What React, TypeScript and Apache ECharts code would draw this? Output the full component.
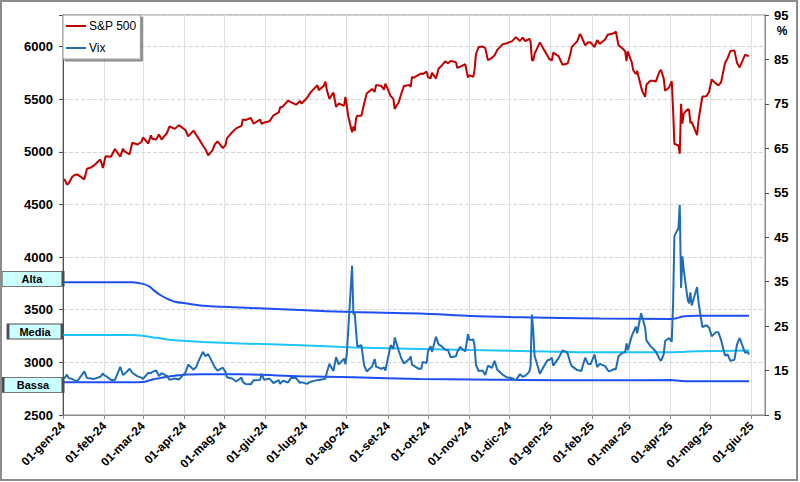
import React, { useEffect, useRef } from 'react';
import * as echarts from 'echarts';

const FONT = '"Liberation Sans", Arial, Helvetica, sans-serif';
const monthNames = ['gen', 'feb', 'mar', 'apr', 'mag', 'giu', 'lug', 'ago', 'set', 'ott', 'nov', 'dic'];

// trading dates (one line per month)
const dates = [
  '2024-01-02','2024-01-04','2024-01-05','2024-01-08','2024-01-10','2024-01-12','2024-01-17','2024-01-19','2024-01-22','2024-01-24','2024-01-26','2024-01-29','2024-01-31',
  '2024-02-01','2024-02-02','2024-02-06','2024-02-09','2024-02-13','2024-02-15','2024-02-16','2024-02-20','2024-02-22','2024-02-26','2024-02-29',
  '2024-03-01','2024-03-05','2024-03-07','2024-03-08','2024-03-11','2024-03-13','2024-03-15','2024-03-19','2024-03-21','2024-03-25','2024-03-28',
  '2024-04-02','2024-04-04','2024-04-08','2024-04-10','2024-04-12','2024-04-15','2024-04-17','2024-04-19','2024-04-22','2024-04-24','2024-04-26','2024-04-30',
  '2024-05-02','2024-05-03','2024-05-07','2024-05-10','2024-05-14','2024-05-15','2024-05-17','2024-05-21','2024-05-23','2024-05-28','2024-05-29','2024-05-31',
  '2024-06-04','2024-06-07','2024-06-11','2024-06-12','2024-06-14','2024-06-18','2024-06-20','2024-06-24','2024-06-27','2024-06-28',
  '2024-07-02','2024-07-05','2024-07-10','2024-07-11','2024-07-15','2024-07-16','2024-07-17','2024-07-19','2024-07-22','2024-07-24','2024-07-26','2024-07-30','2024-07-31',
  '2024-08-01','2024-08-02','2024-08-05','2024-08-06','2024-08-07','2024-08-08','2024-08-09','2024-08-12','2024-08-14','2024-08-16','2024-08-20','2024-08-22','2024-08-23','2024-08-27','2024-08-29','2024-08-30',
  '2024-09-03','2024-09-05','2024-09-06','2024-09-09','2024-09-11','2024-09-13','2024-09-17','2024-09-18','2024-09-19','2024-09-20','2024-09-24','2024-09-26','2024-09-27','2024-09-30',
  '2024-10-01','2024-10-03','2024-10-04','2024-10-07','2024-10-09','2024-10-11','2024-10-14','2024-10-16','2024-10-18','2024-10-22','2024-10-23','2024-10-25','2024-10-29','2024-10-31',
  '2024-11-01','2024-11-04','2024-11-05','2024-11-06','2024-11-08','2024-11-11','2024-11-13','2024-11-15','2024-11-18','2024-11-20','2024-11-22','2024-11-26','2024-11-29',
  '2024-12-03','2024-12-06','2024-12-09','2024-12-11','2024-12-13','2024-12-16','2024-12-17','2024-12-18','2024-12-19','2024-12-20','2024-12-24','2024-12-27','2024-12-30','2024-12-31',
  '2025-01-02','2025-01-03','2025-01-07','2025-01-10','2025-01-13','2025-01-14','2025-01-16','2025-01-17','2025-01-21','2025-01-23','2025-01-24','2025-01-27','2025-01-29','2025-01-31',
  '2025-02-03','2025-02-05','2025-02-07','2025-02-11','2025-02-13','2025-02-14','2025-02-18','2025-02-19','2025-02-21','2025-02-24','2025-02-26','2025-02-27','2025-02-28',
  '2025-03-03','2025-03-04','2025-03-06','2025-03-07','2025-03-10','2025-03-11','2025-03-13','2025-03-14','2025-03-17','2025-03-19','2025-03-21','2025-03-24','2025-03-25','2025-03-27','2025-03-28','2025-03-31',
  '2025-04-02','2025-04-03','2025-04-04','2025-04-07','2025-04-08','2025-04-09','2025-04-10','2025-04-11','2025-04-14','2025-04-15','2025-04-16','2025-04-17','2025-04-21','2025-04-22','2025-04-23','2025-04-25','2025-04-28','2025-04-30',
  '2025-05-02','2025-05-05','2025-05-07','2025-05-09','2025-05-12','2025-05-14','2025-05-16','2025-05-19','2025-05-21','2025-05-23','2025-05-27','2025-05-29','2025-05-30',
];

const sp500 = [
  4743,4688,4697,4764,4783,4784,4739,4840,4851,4869,4891,4928,4846,
  4906,4959,4954,5027,4953,5030,5006,4976,5087,5070,5096,
  5137,5079,5157,5124,5117,5165,5117,5179,5241,5218,5254,
  5205,5147,5202,5161,5123,5061,5022,4967,5011,5071,5100,5036,
  5064,5128,5187,5223,5247,5308,5303,5321,5268,5306,5267,5278,
  5291,5347,5375,5421,5431,5487,5473,5448,5483,5460,
  5509,5567,5633,5585,5631,5667,5589,5505,5564,5427,5459,5436,5522,
  5446,5346,5186,5240,5199,5319,5344,5344,5455,5554,5597,5571,5634,5625,5592,5648,
  5529,5503,5408,5471,5554,5626,5634,5618,5713,5703,5732,5745,5738,5762,
  5709,5699,5751,5696,5792,5815,5859,5842,5864,5851,5797,5808,5832,5705,
  5729,5712,5783,5929,5996,6001,5985,5870,5893,5917,5969,6021,6032,
  6049,6090,6053,6085,6051,6074,6051,5872,5867,5931,6040,5971,5907,5882,
  5869,5942,5909,5827,5836,5843,5937,5997,6049,6119,6101,6012,6039,6041,
  5994,6061,6026,6068,6115,6115,6129,6144,6013,5983,5956,5861,5955,
  5849,5778,5739,5770,5615,5572,5522,5639,5675,5675,5668,5768,5777,5693,5581,5612,
  5671,5397,5074,5062,4982,5457,5268,5363,5406,5396,5276,5283,5158,5288,5376,5525,5529,5569,
  5687,5650,5631,5660,5844,5892,5958,5964,5845,5802,5922,5912,5912,
];

const vix = [
  13.2,14.1,13.35,13.1,12.7,12.7,14.8,13.3,13.2,13.1,13.3,13.6,14.35,
  13.9,13.85,12.9,12.9,15.85,14.0,14.2,15.4,14.5,13.7,13.4,
  13.1,14.5,14.4,14.7,15.0,13.75,14.4,13.8,12.9,13.2,13.0,
  14.6,16.35,15.2,15.8,17.3,19.2,18.2,18.7,16.9,15.7,15.0,15.65,
  14.7,13.5,13.2,12.55,13.4,12.45,12.0,11.9,12.8,12.9,14.3,12.9,
  13.2,12.2,12.85,12.0,12.7,12.3,13.3,13.3,12.2,12.4,
  12.0,12.5,12.85,12.9,13.1,13.2,14.5,16.5,14.9,18.0,16.4,17.7,16.4,
  18.6,23.4,38.6,27.7,27.9,23.8,20.4,20.7,16.2,14.8,15.9,17.6,15.9,15.4,15.7,15.0,
  20.7,19.9,22.4,19.5,17.7,16.6,17.6,18.2,16.3,16.15,15.4,15.4,16.96,16.7,
  19.3,20.5,19.2,22.6,20.9,20.5,19.7,19.6,18.0,18.2,19.2,20.3,19.3,23.2,
  21.9,22.0,20.5,16.3,14.9,15.0,14.0,16.1,15.6,17.2,15.2,14.1,13.5,
  13.3,12.8,14.2,13.6,13.8,14.7,15.9,27.6,24.1,18.4,14.3,15.95,17.4,17.35,
  17.9,16.1,17.8,19.5,19.2,18.7,16.6,16.0,15.1,15.0,14.85,17.9,16.6,16.4,
  18.6,15.8,16.5,16.0,15.1,14.8,15.35,15.3,18.2,19.0,19.1,21.1,19.6,
  22.8,23.5,24.9,23.4,27.9,26.9,24.7,21.8,20.5,19.9,19.3,17.5,17.2,18.7,21.65,22.3,
  21.5,30.0,45.3,47.0,52.3,33.6,40.7,37.6,30.9,30.1,32.6,29.65,33.8,30.6,28.5,24.8,25.2,24.7,
  22.7,23.6,23.6,21.9,18.4,18.6,17.2,17.4,20.9,22.3,19.0,19.2,18.6,
];

// VIX bands
const bandDates = [
  '2024-01-01','2024-02-22','2024-03-01','2024-03-06','2024-03-09','2024-03-14','2024-03-19','2024-03-25',
  '2024-04-03','2024-04-15','2024-05-13','2024-06-27','2024-08-06','2024-09-25','2024-11-02','2024-12-10',
  '2025-02-07','2025-04-02','2025-04-06','2025-04-10','2025-04-15','2025-04-21','2025-05-30',
];
const alta = [34.86,34.85,34.5,33.9,33.1,32.0,31.2,30.5,30.1,29.6,29.2,28.6,28.15,27.85,27.3,27.0,26.7,26.6,26.8,27.15,27.3,27.35,27.35];
const media = [23.0,23.0,22.85,22.6,22.45,22.25,22.0,21.8,21.65,21.45,21.1,20.7,20.2,19.85,19.6,19.4,19.1,19.1,19.15,19.2,19.3,19.35,19.5];
const bassa = [12.35,12.35,12.4,12.8,13.05,13.3,13.6,13.85,14.1,14.15,14.15,13.7,13.5,13.1,13.0,12.9,12.8,12.85,12.75,12.65,12.6,12.6,12.6];

const bandMark = (name: string, vals: number[], w: number, dx: number, dy: number) => ({
  silent: true,
  symbol: 'rect',
  symbolSize: [w, 15],
  symbolOffset: [dx, dy],
  itemStyle: { color: '#ccffff', borderColor: '#4d4d4d', borderWidth: 1.5 },
  label: {
    show: true,
    position: 'inside',
    formatter: name,
    color: '#000',
    fontSize: 11,
    fontWeight: 'bold',
    fontFamily: FONT,
  },
  data: [{ coord: [bandDates[0], vals[0]] }],
});

export default function App() {
  const ref = useRef<HTMLDivElement>(null);
  useEffect(() => {
    document.body.style.margin = '0';
    const chart = echarts.init(ref.current!, null, { renderer: 'svg' });
    const fmtDate = (v: number) => {
      const d = new Date(v);
      if (d.getDate() !== 1) return '';
      const yy = String(d.getFullYear()).slice(2);
      return `01-${monthNames[d.getMonth()]}-${yy}`;
    };
    const option: any = {
      animation: false,
      textStyle: { fontFamily: FONT },
      grid: {
        left: 63, top: 15, width: 702, height: 400,
        show: true, borderColor: '#8a8a8a', borderWidth: 1, backgroundColor: 'transparent',
        containLabel: false,
      },
      legend: {
        data: ['S&P 500', 'Vix'],
        left: 63, top: 15,
        orient: 'vertical',
        icon: 'rect',
        itemWidth: 20, itemHeight: 2,
        itemGap: 10,
        padding: [5, 4, 5, 3],
        backgroundColor: '#fff',
        borderColor: '#9a9a9a', borderWidth: 1,
        shadowColor: 'rgba(0,0,0,0.45)', shadowOffsetX: 2, shadowOffsetY: 2, shadowBlur: 0,
        textStyle: { fontSize: 12, color: '#000', fontFamily: FONT, padding: [0, 0, 0, -2] },
      },
      xAxis: {
        type: 'time',
        min: '2024-01-01',
        max: '2025-06-11',
        splitNumber: 17,
        axisLine: { show: true, lineStyle: { color: '#8a8a8a', width: 1 } },
        axisTick: { show: true, length: 4, lineStyle: { color: '#8a8a8a' } },
        splitLine: { show: true, lineStyle: { color: '#e0e0e0', width: 1 } },
        axisLabel: {
          rotate: 45,
          fontSize: 12,
          fontWeight: 'bold',
          color: '#000',
          margin: 9,
          hideOverlap: false,
          showMinLabel: true,
          showMaxLabel: false,
          formatter: (v: number) => fmtDate(v),
        },
      },
      yAxis: [
        {
          type: 'value', min: 2500, max: 6300, interval: 500, position: 'left',
          axisLine: { show: true, lineStyle: { color: '#505050', width: 1 } },
          axisTick: { show: true, length: 4, lineStyle: { color: '#505050' } },
          axisLabel: {
            fontSize: 13, fontWeight: 'bold', color: '#000', margin: 10,
            formatter: (v: number) => (v % 500 === 0 ? String(v) : ''),
          },
          splitLine: { show: true, lineStyle: { color: '#d6d6d6', type: 'dashed', width: 1 } },
        },
        {
          type: 'value', min: 5, max: 95, interval: 10, position: 'right',
          axisLine: { show: true, lineStyle: { color: '#8a8a8a', width: 1 } },
          axisTick: { show: true, length: 4, lineStyle: { color: '#505050' } },
          axisLabel: { fontSize: 13, fontWeight: 'bold', color: '#000', margin: 9 },
          splitLine: { show: false },
        },
      ],
      graphic: [
        {
          type: 'rect', silent: true, z: 100,
          shape: { x: 1, y: 1, width: 796, height: 479 },
          style: { fill: 'none', stroke: '#8c8c8c', lineWidth: 2 },
        },
        {
          type: 'text', x: 782, y: 31,
          style: { text: '%', fontSize: 12, fontWeight: 'bold', fill: '#000', font: `bold 12px ${FONT}`, textAlign: 'center', textVerticalAlign: 'middle' },
        },
      ],
      series: [
        {
          name: 'Alta', type: 'line', yAxisIndex: 1, showSymbol: false, smooth: 0.3,
          lineStyle: { color: '#1f4ff2', width: 2 }, itemStyle: { color: '#1f4ff2' },
          data: bandDates.map((d, i) => [d, alta[i]]),
          markPoint: bandMark('Alta', alta, 62, -31, -3.5),
        },
        {
          name: 'Media', type: 'line', yAxisIndex: 1, showSymbol: false, smooth: 0.3,
          lineStyle: { color: '#1ec4fb', width: 2 }, itemStyle: { color: '#1ec4fb' },
          data: bandDates.map((d, i) => [d, media[i]]),
          markPoint: bandMark('Media', media, 54, -28, -3.5),
        },
        {
          name: 'Bassa', type: 'line', yAxisIndex: 1, showSymbol: false, smooth: 0.3,
          lineStyle: { color: '#1f4ff2', width: 2 }, itemStyle: { color: '#1f4ff2' },
          data: bandDates.map((d, i) => [d, bassa[i]]),
          markPoint: bandMark('Bassa', bassa, 60, -30, 2.5),
        },
        {
          name: 'Vix', type: 'line', yAxisIndex: 1, showSymbol: false,
          lineStyle: { color: '#1f6db8', width: 2 }, itemStyle: { color: '#1f6db8' },
          data: dates.map((d, i) => [d, vix[i]]),
        },
        {
          name: 'S&P 500', type: 'line', yAxisIndex: 0, showSymbol: false,
          lineStyle: { color: '#c00000', width: 2 }, itemStyle: { color: '#c00000' },
          data: dates.map((d, i) => [d, sp500[i]]),
        },
      ],
    };
    chart.setOption(option);
    return () => chart.dispose();
  }, []);
  return <div ref={ref} style={{ width: 800, height: 482 }} />;
}
